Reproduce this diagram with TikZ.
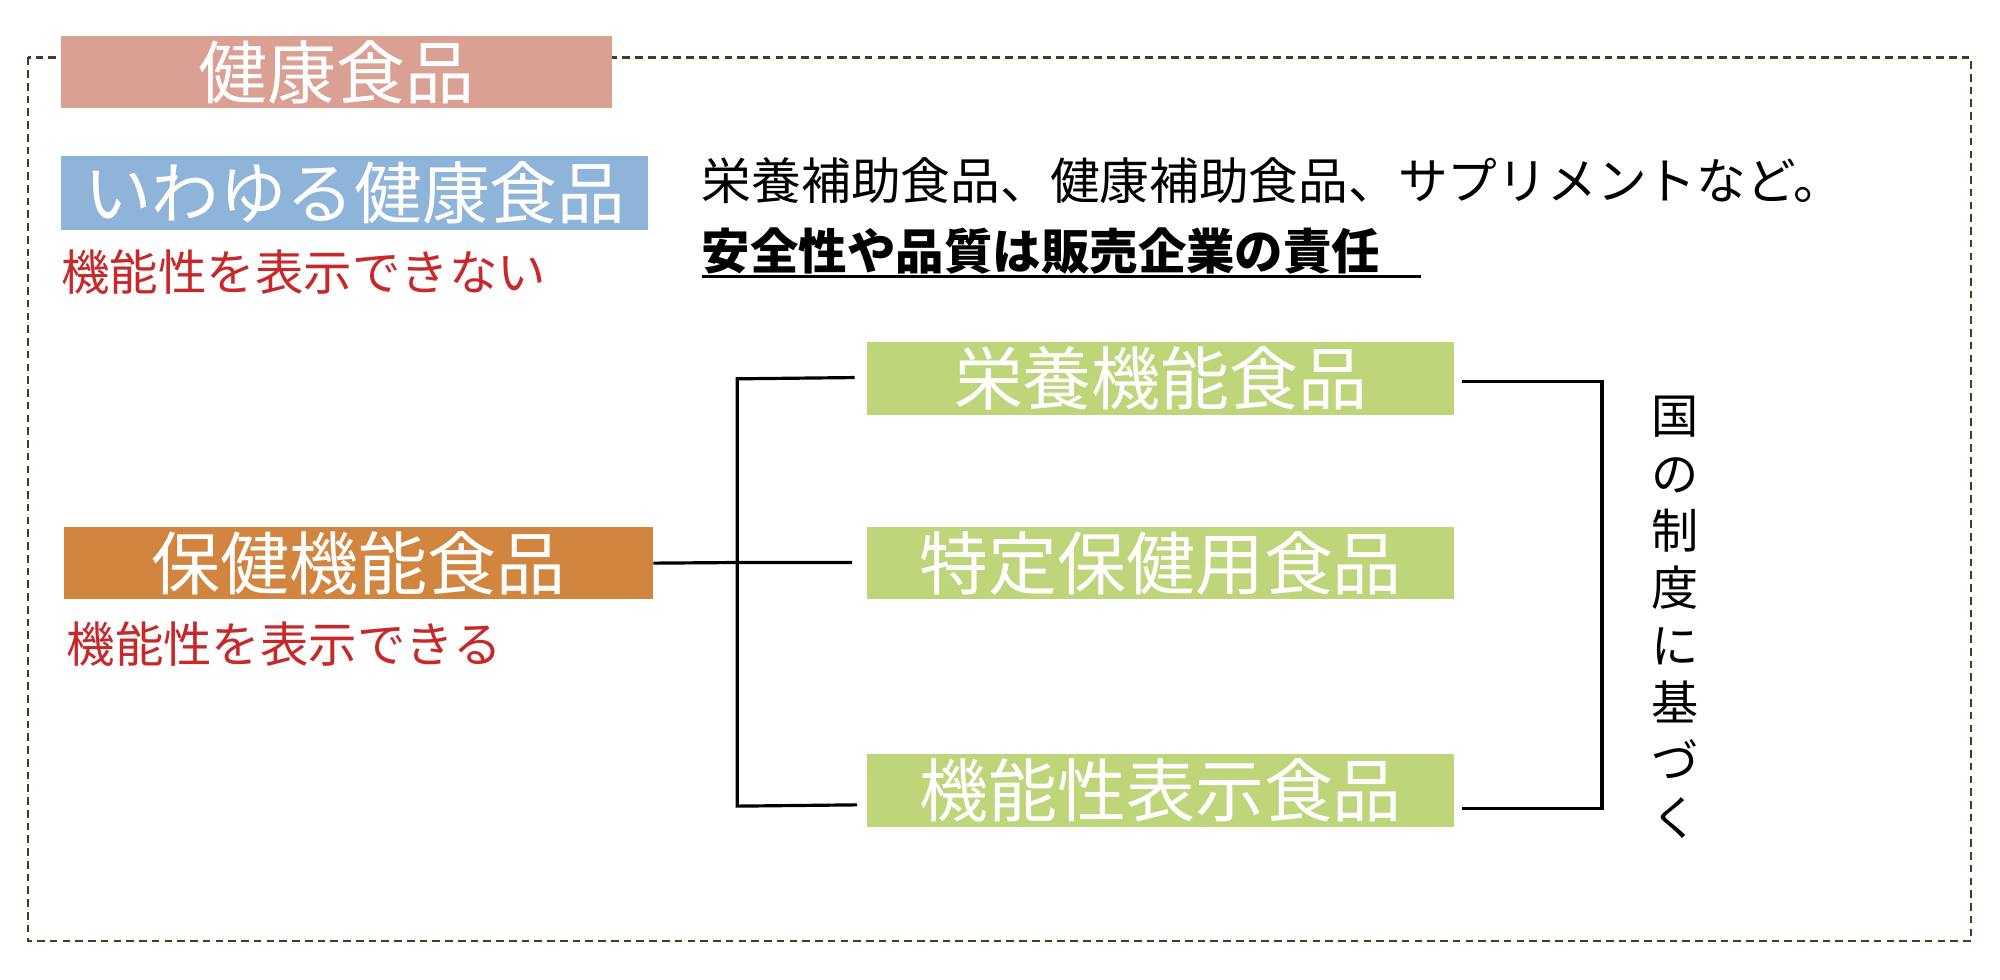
\documentclass[tikz,border=0pt]{standalone}
\usepackage{fontspec}
\setmainfont{Noto Sans CJK JP}
\definecolor{bordc}{HTML}{4A3A20}
\definecolor{pinkc}{HTML}{DBA094}
\definecolor{bluec}{HTML}{8FB4DA}
\definecolor{orc}{HTML}{D2853F}
\definecolor{grc}{HTML}{BFD57A}
\definecolor{redc}{HTML}{C8282A}
\begin{document}
\begin{tikzpicture}[x=1pt,y=-1pt,
  box/.style={fill=#1,text=white,inner sep=0pt,font=\fontsize{54}{54}\selectfont},
  gbox/.style={box=grc,minimum width=460pt,minimum height=57pt},
  red/.style={text=redc,anchor=west,inner sep=0pt,font=\fontsize{38}{38}\selectfont},
  ln/.style={line width=2.5pt,black}]
\useasboundingbox (0,0) rectangle (1568,768);
\draw[bordc,line width=1.8pt,dash pattern=on 6pt off 4pt] (22,45) rectangle (1545,738);
\node[box=pinkc,minimum width=432pt,minimum height=57pt] (kk) at (264,56.5) {健康食品};
\node[box=bluec,minimum width=460pt,minimum height=58pt,font=\fontsize{53}{53}\selectfont] (iw) at (278,151) {いわゆる健康食品};
\node[red] (r1) at (48,213) {機能性を表示できない};
\node[anchor=west,inner sep=0pt,font=\fontsize{39}{39}\selectfont] (t1) at (550,142) {栄養補助食品、健康補助食品、サプリメントなど。};
\node[anchor=west,inner sep=0pt,font=\fontsize{38}{38}\selectfont\bfseries] (t2) at (550,197) {安全性や品質は販売企業の責任};
\coordinate (u1) at (550,217);
\coordinate (u2) at (1114,217);
\draw[line width=2.5pt] (u1) -- (u2);
\node[gbox] (g1) at (910,296.5) {栄養機能食品};
\node[gbox] (g2) at (910,441.5) {特定保健用食品};
\node[gbox] (g3) at (910,619.5) {機能性表示食品};
\node[box=orc,minimum width=462pt,minimum height=57pt] (hk) at (281,441.5) {保健機能食品};
\node[red] (r2) at (52,505) {機能性を表示できる};
\coordinate (j0) at (578,441);
\coordinate (j1) at (578,297);
\coordinate (j3) at (578,632);
\coordinate (e1) at (670,296);
\coordinate (e2) at (668,441);
\coordinate (e3) at (672,631);
\draw[ln] (hk.east) -- (j0) -- (e2);
\draw[ln] (e1) -- (j1) -- (j3) -- (e3);
\coordinate (c1) at (1146,299);
\coordinate (c2) at (1146,634);
\coordinate (b1) at (1256,299);
\coordinate (b2) at (1256,634);
\draw[ln] (c1) -- (b1) -- (b2) -- (c2);
\node[align=center,inner sep=0pt,font=\fontsize{37}{45}\selectfont] (kuni) at (1313,484)
 {国\\の\\制\\度\\に\\基\\づ\\く};
\end{tikzpicture}
\end{document}
